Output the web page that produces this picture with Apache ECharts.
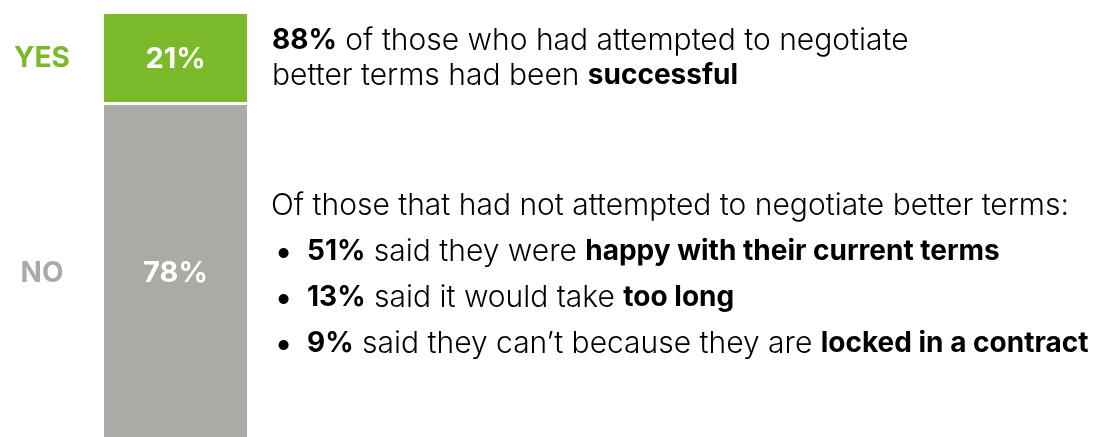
<!DOCTYPE html>
<html>
<head>
    <meta charset="UTF-8">
    <style>
      html, body { margin: 0; padding: 0; background: #fff; }
      #main { width: 1097px; height: 437px; }
    </style>
</head>
<body>
<div id="main"></div>
<script src="https://cdn.jsdelivr.net/npm/echarts@6/dist/echarts.min.js"></script>
<script>
    // data
    var categories = ['Attempted to negotiate'];
    var answerNames = ['YES', 'NO'];
    var answerValues = [21, 78];
    var answerColors = ['#7ab929', '#abaaa5'];

    var yesNote = [
        '{b|88%}{r| of those who had attempted to negotiate}',
        '{r|better terms had been }{b|successful}'
    ];
    var noIntro = 'Of those that had not attempted to negotiate better terms:';
    var noShares = ['51%', '13%', '9%'];
    var noReasons = [
        ['said they were ', 'happy with their current terms'],
        ['said it would take ', 'too long'],
        ['said they can\u2019t because they are ', 'locked in a contract']
    ];

    var FONT = 'Inter, Roboto, sans-serif';
    var textRich = {
        r: { fontFamily: FONT, fontSize: 30, fontWeight: 300, color: '#1a1a1a' },
        b: { fontFamily: FONT, fontSize: 28, fontWeight: 'bold', color: '#1a1a1a' },
        dot: { fontFamily: FONT, fontSize: 32, fontWeight: 'bold', color: '#1a1a1a', width: 31 }
    };

    function noteText(str, x, y) {
        return {
            type: 'text', x: x, y: y, silent: true,
            style: { text: str, rich: textRich, verticalAlign: 'middle', align: 'left' }
        };
    }

    var graphics = [
        noteText(yesNote[0], 272, 41),
        noteText(yesNote[1], 272, 76),
        noteText('{r|' + noIntro + '}', 271, 206)
    ];
    noShares.forEach(function (s, i) {
        graphics.push(noteText('{dot|\u2022}{b|' + s + '}{r| ' + noReasons[i][0] + '}{b|' + noReasons[i][1] + '}',
            276, 252 + i * 46));
    });

    // stack: NO at the bottom, YES on top
    var order = [1, 0];
    var series = order.map(function (k) {
        var s = {
            name: answerNames[k],
            type: 'bar',
            stack: 'all',
            barWidth: '100%',
            data: [answerValues[k]],
            itemStyle: { color: answerColors[k] },
            label: {
                show: true,
                position: [-104, '50%'],
                offset: [0, k === 1 ? 3 : 0],
                align: 'left',
                verticalAlign: 'middle',
                formatter: '{n|' + answerNames[k] + '}{s|}{v|{c}%}',
                rich: {
                    n: { width: 84, align: 'center', fontFamily: FONT, fontSize: 28, fontWeight: 'bold', color: answerColors[k] },
                    s: { width: 20 },
                    v: { width: 143, align: 'center', fontFamily: FONT, fontSize: 29, fontWeight: 'bold', color: '#ffffff' }
                }
            }
        };
        if (k === 1) {
            // thin white gap between the two segments
            s.markLine = {
                silent: true, symbol: 'none',
                label: { show: false },
                lineStyle: { color: '#ffffff', width: 3, type: 'solid' },
                data: [{ yAxis: answerValues[1] }]
            };
        }
        return s;
    });

    var myChart = echarts.init(document.getElementById('main'));
    var option = {
        animation: false,
        grid: { left: 104, width: 143, top: 14, bottom: 0 },
        xAxis: { type: 'category', data: categories, show: false },
        yAxis: { type: 'value', min: 0, max: answerValues[0] + answerValues[1], show: false },
        series: series,
        graphic: graphics
    };
    myChart.setOption(option);
</script>
</body>
</html>
